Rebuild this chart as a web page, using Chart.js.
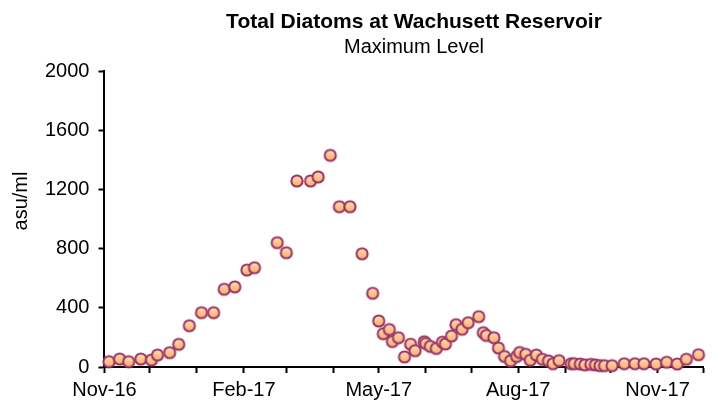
<!DOCTYPE html>
<html>
<head>
<meta charset="utf-8">
<script src="https://cdn.jsdelivr.net/npm/chart.js@4.4.1/dist/chart.umd.min.js"></script>
<style>
  html, body { margin: 0; padding: 0; background: #fff; }
  #wrap { width: 713px; height: 403px; }
</style>
</head>
<body>
<div id="wrap"><canvas id="grafico"></canvas></div>
<script>
// Datos (fecha de muestreo, asu/ml)
const fechas = [
  '2016-11-04', '2016-11-11', '2016-11-17', '2016-11-25', '2016-12-02', '2016-12-06',
  '2016-12-14', '2016-12-20', '2016-12-27', '2017-01-04', '2017-01-12', '2017-01-19',
  '2017-01-26', '2017-02-03', '2017-02-08', '2017-02-23', '2017-03-01', '2017-03-08',
  '2017-03-17', '2017-03-22', '2017-03-30', '2017-04-05', '2017-04-12', '2017-04-20',
  '2017-04-27', '2017-05-01', '2017-05-04', '2017-05-08', '2017-05-10', '2017-05-14',
  '2017-05-18', '2017-05-22', '2017-05-25', '2017-05-31', '2017-06-01', '2017-06-04',
  '2017-06-08', '2017-06-12', '2017-06-14', '2017-06-18', '2017-06-21', '2017-06-25',
  '2017-06-29', '2017-07-06', '2017-07-09', '2017-07-11', '2017-07-16', '2017-07-19',
  '2017-07-23', '2017-07-27', '2017-07-31', '2017-08-02', '2017-08-06', '2017-08-09',
  '2017-08-13', '2017-08-17', '2017-08-21', '2017-08-24', '2017-08-28', '2017-09-05',
  '2017-09-07', '2017-09-11', '2017-09-14', '2017-09-18', '2017-09-21', '2017-09-24',
  '2017-09-27', '2017-10-02', '2017-10-10', '2017-10-17', '2017-10-23', '2017-10-31',
  '2017-11-07', '2017-11-14', '2017-11-20', '2017-11-28'
];
const diatomeas = [
  36, 54, 36, 54, 47, 81,
  97, 153, 279, 367, 367, 525,
  541, 655, 671, 840, 772, 1257,
  1257, 1284, 1430, 1083, 1083, 765,
  498, 311, 225, 253, 172, 198,
  68, 154, 110, 171, 159, 139,
  125, 168, 155, 209, 286, 255,
  299, 340, 232, 213, 198, 128,
  71, 41, 71, 98, 86, 46,
  81, 52, 41, 22, 43, 22,
  22, 20, 14, 18, 14, 9,
  9, 9, 22, 22, 22, 20,
  32, 20, 52, 83
];

// Eje X: inicio de cada mes, con etiqueta cada tres meses
const mesesEje = [
  '2016-11-01', '2016-12-01', '2017-01-01', '2017-02-01', '2017-03-01', '2017-04-01',
  '2017-05-01', '2017-06-01', '2017-07-01', '2017-08-01', '2017-09-01', '2017-10-01',
  '2017-11-01', '2017-12-01'
];
const etiquetasEje = ['Nov-16', '', '', 'Feb-17', '', '', 'May-17', '', '', 'Aug-17', '', '', 'Nov-17', ''];
const ticksY = [0, 400, 800, 1200, 1600, 2000];

const TITULO = 'Total Diatoms at Wachusett Reservoir';
const SUBTITULO = 'Maximum Level';
const TITULO_Y = 'asu/ml';
const FUENTE = '"Liberation Sans", Arial, sans-serif';

// dias desde el primer mes del eje
const origen = Date.parse(mesesEje[0] + 'T00:00:00Z');
function dias(f) {
    return (Date.parse(f + 'T00:00:00Z') - origen) / 864e5;
}
const diasEje = mesesEje.map(dias);
const puntos = fechas.map((f, i) => ({ x: dias(f), y: diatomeas[i] }));

// marcador con degradado como el de Excel
function crearPunto() {
    const c = document.createElement('canvas');
    c.width = 16; c.height = 16;
    const g = c.getContext('2d');
    const grad = g.createLinearGradient(0, 2, 0, 14);
    grad.addColorStop(0, '#ffe6c8');
    grad.addColorStop(0.45, '#ffc68e');
    grad.addColorStop(1, '#fbad70');
    g.beginPath();
    g.arc(8, 8, 5.6, 0, Math.PI * 2);
    g.fillStyle = grad;
    g.fill();
    g.lineWidth = 2;
    g.strokeStyle = '#993366';
    g.stroke();
    return c;
}

// titulos dibujados a mano (Excel no los centra en el lienzo)
const titulos = {
    id: 'titulos',
    afterDraw(chart) {
        const ctx = chart.ctx;
        ctx.save();
        ctx.fillStyle = '#000';
        ctx.textAlign = 'center';
        ctx.textBaseline = 'middle';
        ctx.font = 'bold 21px ' + FUENTE;
        ctx.fillText(TITULO, 414, 22);
        ctx.font = '20px ' + FUENTE;
        ctx.fillText(SUBTITULO, 414, 47);
        ctx.translate(21, 201);
        ctx.rotate(-Math.PI / 2);
        ctx.fillText(TITULO_Y, 0, 0);
        ctx.restore();
    }
};

const marcador = crearPunto();

new Chart(document.getElementById('grafico'), {
    type: 'scatter',
    data: {
        datasets: [{
            label: 'Total Diatoms',
            data: puntos,
            pointStyle: marcador,
            pointRadius: 7,
            clip: false
        }]
    },
    options: {
        responsive: true,
        maintainAspectRatio: false,
        animation: false,
        layout: { padding: { top: 71, right: 10, left: 36, bottom: -4 } },
        plugins: {
            legend: { display: false },
            tooltip: { enabled: false }
        },
        scales: {
            x: {
                type: 'linear',
                min: diasEje[0],
                max: diasEje[diasEje.length - 1],
                afterBuildTicks: (eje) => { eje.ticks = diasEje.map(v => ({ value: v })); },
                ticks: {
                    autoSkip: false,
                    maxRotation: 0,
                    color: '#000',
                    padding: 5,
                    font: { family: FUENTE, size: 20 },
                    callback: (v) => {
                        const i = diasEje.indexOf(v);
                        return i >= 0 ? etiquetasEje[i] : '';
                    }
                },
                grid: { drawOnChartArea: false, drawTicks: true, tickLength: 6, tickColor: '#000', tickWidth: 2 },
                border: { color: '#000', width: 2 }
            },
            y: {
                min: 0,
                max: 2000,
                afterBuildTicks: (eje) => { eje.ticks = ticksY.map(v => ({ value: v })); },
                ticks: {
                    color: '#000',
                    padding: 9,
                    font: { family: FUENTE, size: 20 },
                    callback: (v) => String(v)
                },
                grid: { drawOnChartArea: false, drawTicks: true, tickLength: 6, tickColor: '#000', tickWidth: 2 },
                border: { color: '#000', width: 2 }
            }
        }
    },
    plugins: [titulos]
});
</script>
</body>
</html>
